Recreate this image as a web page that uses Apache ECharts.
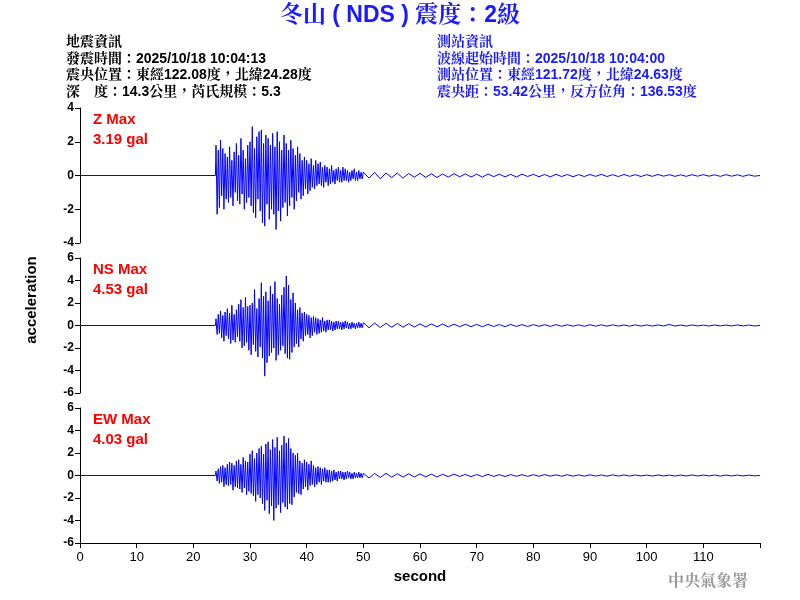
<!DOCTYPE html>
<html><head><meta charset="utf-8">
<script src="https://cdn.jsdelivr.net/npm/echarts@6/dist/echarts.min.js"></script>
<style>html,body{margin:0;padding:0;background:#fff}#c{width:800px;height:600px}</style>
</head><body><div id="c"></div>
<script>
const traceNames = ['Z Max', 'NS Max', 'EW Max'];
const maxLabels = ['3.19 gal', '4.53 gal', '4.03 gal'];
const yTicks = [[-4, 4], [-6, 6], [-6, 6]];
const xTicks = [0, 10, 20, 30, 40, 50, 60, 70, 80, 90, 100, 110];
const onsetSec = 24, denseStep = 0.2, tailStart = 50, tailStep = 1;
const zDense = [1.8,-2.3,1.5,-1.9,2.1,-1.2,1.6,-2.0,1.3,-1.4, 1.1,-1.6,1.7,-1.3,0.9,-1.8,1.4,-1.0,1.9,-1.5,
 1.2,-1.7,2.2,-1.1,1.5,-2.0,1.0,-1.6,1.8,-1.3, 2.0,-1.8,2.9,-2.2,1.6,-2.5,2.3,-1.4,2.6,-2.1,
 2.7,-2.8,1.9,-3.0,2.4,-1.7,2.2,-2.6,1.8,-2.0, 2.5,-2.3,1.7,-3.2,2.6,-2.1,2.0,-2.7,1.5,-1.9,
 2.4,-1.6,1.9,-2.4,1.5,-1.8,2.1,-1.3,1.6,-2.0, 1.2,-1.5,1.7,-1.0,1.3,-1.4,0.9,-1.2,1.1,-0.8,
 0.9,-1.1,0.7,-0.9,1.0,-0.7,0.6,-0.8,0.9,-0.6, 0.7,-0.5,0.8,-0.6,0.5,-0.7,0.6,-0.4,0.5,-0.6,
 0.4,-0.5,0.6,-0.4,0.3,-0.5,0.4,-0.3,0.5,-0.4, 0.3,-0.4,0.5,-0.3,0.4,-0.3,0.3,-0.4,0.2,-0.3,
 0.3,-0.2,0.4,-0.3,0.2,-0.3,0.3,-0.2,0.2,-0.2];
const nsDense = [0.6,-0.8,1.0,-0.7,1.3,-1.1,0.9,-1.4,1.2,-0.9, 1.5,-1.2,1.1,-1.6,1.8,-1.3,1.0,-1.5,1.4,-1.0,
 1.9,-1.4,2.3,-2.0,1.6,-1.8,2.5,-1.5,1.7,-2.2, 1.8,-2.6,2.0,-1.7,3.2,-2.3,1.5,-2.8,2.4,-1.9,
 3.8,-2.9,2.6,-4.5,3.0,-3.3,2.2,-2.7,3.5,-2.4, 2.8,-2.0,3.9,-3.1,2.4,-2.6,1.9,-2.2,2.7,-1.8,
 3.4,-2.5,4.4,-2.9,3.6,-3.0,2.3,-2.4,2.9,-1.9, 2.0,-1.6,1.4,-1.9,1.6,-1.2,1.1,-1.4,1.2,-0.9,
 1.0,-0.8,0.9,-1.1,0.7,-0.9,0.8,-0.6,0.7,-0.8, 0.6,-0.7,0.5,-0.6,0.7,-0.5,0.4,-0.6,0.5,-0.4,
 0.5,-0.4,0.4,-0.5,0.3,-0.4,0.4,-0.3,0.4,-0.3, 0.3,-0.4,0.3,-0.3,0.4,-0.2,0.3,-0.3,0.2,-0.3,
 0.3,-0.2,0.2,-0.3,0.2,-0.2,0.3,-0.2,0.2,-0.2];
const ewDense = [0.4,-0.5,0.6,-0.7,0.8,-0.6,0.9,-1.0,0.7,-0.8, 1.0,-0.9,1.2,-0.8,1.1,-1.3,0.9,-1.0,1.3,-1.1,
 1.4,-1.2,1.0,-1.5,1.6,-1.1,1.3,-1.7,1.2,-1.4, 1.9,-1.6,2.2,-1.8,1.5,-2.3,2.0,-1.7,2.4,-2.0,
 2.6,-2.5,1.9,-3.1,2.8,-2.2,3.0,-3.4,2.3,-2.7, 3.2,-4.0,2.5,-2.9,3.4,-2.6,2.2,-3.3,2.7,-2.4,
 3.5,-2.8,2.9,-3.0,3.3,-2.5,2.4,-2.6,2.0,-1.9, 1.8,-1.5,2.0,-1.6,1.3,-1.7,1.1,-1.2,1.4,-1.0,
 1.2,-1.3,1.0,-0.9,1.3,-0.8,0.9,-1.0,0.7,-0.8, 0.8,-0.6,0.7,-0.8,0.6,-0.5,0.7,-0.6,0.5,-0.6,
 0.5,-0.6,0.4,-0.5,0.5,-0.4,0.3,-0.5,0.4,-0.3, 0.4,-0.3,0.3,-0.4,0.3,-0.3,0.4,-0.2,0.3,-0.3,
 0.2,-0.3,0.3,-0.2,0.2,-0.2,0.3,-0.2,0.2,-0.2];
const zTail = [0.2,-0.15,0.18,-0.2,0.15,-0.12,0.14,-0.16,0.12,-0.1, 0.13,-0.11,0.1,-0.12,0.09,-0.1,0.11,-0.08,0.1,-0.09,
 0.08,-0.1,0.09,-0.07,0.08,-0.08,0.07,-0.09,0.08,-0.06, 0.07,-0.07,0.06,-0.08,0.07,-0.06,0.06,-0.07,0.05,-0.06,
 0.06,-0.05,0.07,-0.06,0.05,-0.06,0.06,-0.05,0.05,-0.06, 0.05,-0.05,0.06,-0.04,0.05,-0.05,0.04,-0.05,0.05,-0.04,
 0.05,-0.04,0.04,-0.05,0.05,-0.04,0.04,-0.05,0.04,-0.04];
const nsTail = [0.25,-0.2,0.22,-0.18,0.2,-0.16,0.18,-0.15,0.16,-0.14, 0.15,-0.13,0.14,-0.12,0.13,-0.12,0.12,-0.11,0.11,-0.1,
 0.1,-0.11,0.1,-0.09,0.09,-0.1,0.09,-0.08,0.08,-0.09, 0.08,-0.07,0.07,-0.08,0.08,-0.07,0.07,-0.06,0.06,-0.07,
 0.07,-0.06,0.06,-0.06,0.06,-0.05,0.05,-0.06,0.06,-0.05, 0.05,-0.05,0.05,-0.04,0.1,-0.05,0.04,-0.05,0.05,-0.04,
 0.04,-0.05,0.05,-0.04,0.04,-0.04,0.05,-0.04,0.04,-0.04];
const ewTail = [0.2,-0.22,0.18,-0.17,0.2,-0.15,0.16,-0.14,0.15,-0.13, 0.14,-0.12,0.12,-0.13,0.11,-0.1,0.12,-0.09,0.1,-0.1,
 0.09,-0.1,0.1,-0.08,0.08,-0.09,0.08,-0.07,0.07,-0.08, 0.07,-0.07,0.08,-0.06,0.06,-0.07,0.07,-0.06,0.06,-0.06,
 0.06,-0.05,0.05,-0.06,0.06,-0.05,0.05,-0.05,0.05,-0.04, 0.04,-0.05,0.05,-0.04,0.04,-0.05,0.04,-0.04,0.05,-0.04,
 0.04,-0.04,0.04,-0.05,0.04,-0.04,0.04,-0.04,0.03,-0.03];

function build(dense, tail) {
  const d = [[0, 0], [onsetSec - 0.1, 0]];
  dense.forEach((v, i) => d.push([+(onsetSec + i * denseStep).toFixed(2), v]));
  tail.forEach((v, i) => d.push([tailStart + i * tailStep, v]));
  d.push([120, 0]);
  return d;
}
const traces = [build(zDense, zTail), build(nsDense, nsTail), build(ewDense, ewTail)];
const tops = [108, 258, 408];
const F = 'Arial, "Liberation Sans", sans-serif';
const CJK = '"Liberation Sans", Arial, "Noto Serif CJK TC", "Noto Sans CJK TC", sans-serif';

const chart = echarts.init(document.getElementById('c'));
const grid = tops.map(t => ({ left: 80, width: 680, top: t, height: 135 }));
const xAxis = tops.map((t, i) => ({
  type: 'value', gridIndex: i, min: 0, max: 120, interval: 10,
  show: i === 2,
  axisLine: { show: true, onZero: false, lineStyle: { color: '#000' } },
  axisTick: { show: true, length: 5, lineStyle: { color: '#000' } },
  axisLabel: { color: '#000', fontFamily: F, fontSize: 13, formatter: v => xTicks.includes(v) ? v : '' },
  splitLine: { show: false },
  name: i === 2 ? 'second' : '', nameLocation: 'middle', nameGap: 26,
  nameTextStyle: { fontFamily: F, fontSize: 15, fontWeight: 'bold', color: '#000' }
}));
const yAxis = yTicks.map((r, i) => ({
  type: 'value', gridIndex: i, min: r[0], max: r[1], interval: 2,
  axisLine: { show: true, lineStyle: { color: '#000' } },
  axisTick: { show: true, length: 5, lineStyle: { color: '#000' } },
  axisLabel: { color: '#000', fontFamily: F, fontSize: 12, fontWeight: 'bold', margin: 6 },
  splitLine: { show: false }
}));
const series = traces.map((d, i) => ({
  type: 'line', xAxisIndex: i, yAxisIndex: i, data: d, symbol: 'none',
  lineStyle: { color: '#0000ff', width: 1 }, animation: false
}));
const graphic = [
  { type: 'text', left: 'center', top: 4, style: { text: '冬山 ( NDS ) 震度：2級', fill: '#1a1aff', font: 'bold 23px ' + CJK } },
  { type: 'text', left: 66, top: 34, style: { text: '地震資訊\n發震時間：2025/10/18 10:04:13\n震央位置：東經122.08度，北緯24.28度\n深　度：14.3公里，芮氏規模：5.3', fill: '#000', font: 'bold 14px ' + CJK, lineHeight: 16.5 } },
  { type: 'text', left: 437, top: 34, style: { text: '測站資訊\n波線起始時間：2025/10/18 10:04:00\n測站位置：東經121.72度，北緯24.63度\n震央距：53.42公里，反方位角：136.53度', fill: '#1a1aff', font: 'bold 14px ' + CJK, lineHeight: 16.5 } },
  { type: 'text', rotation: Math.PI / 2, x: 32, y: 300,
    style: { text: 'acceleration', fill: '#000', font: 'bold 15px ' + F, align: 'center', verticalAlign: 'middle' } },
  { type: 'text', right: 52, top: 572, style: { text: '中央氣象署', fill: '#999', font: 'bold 16px "Noto Serif CJK TC", "Noto Sans CJK TC", serif' } }
];
tops.forEach((t, i) => graphic.push({ type: 'text', left: 93, top: t + 2,
  style: { text: traceNames[i] + '\n' + maxLabels[i], fill: '#ff0000', font: 'bold 15px ' + F, lineHeight: 20 } }));
chart.setOption({ animation: false, grid, xAxis, yAxis, series, graphic });
</script></body></html>
